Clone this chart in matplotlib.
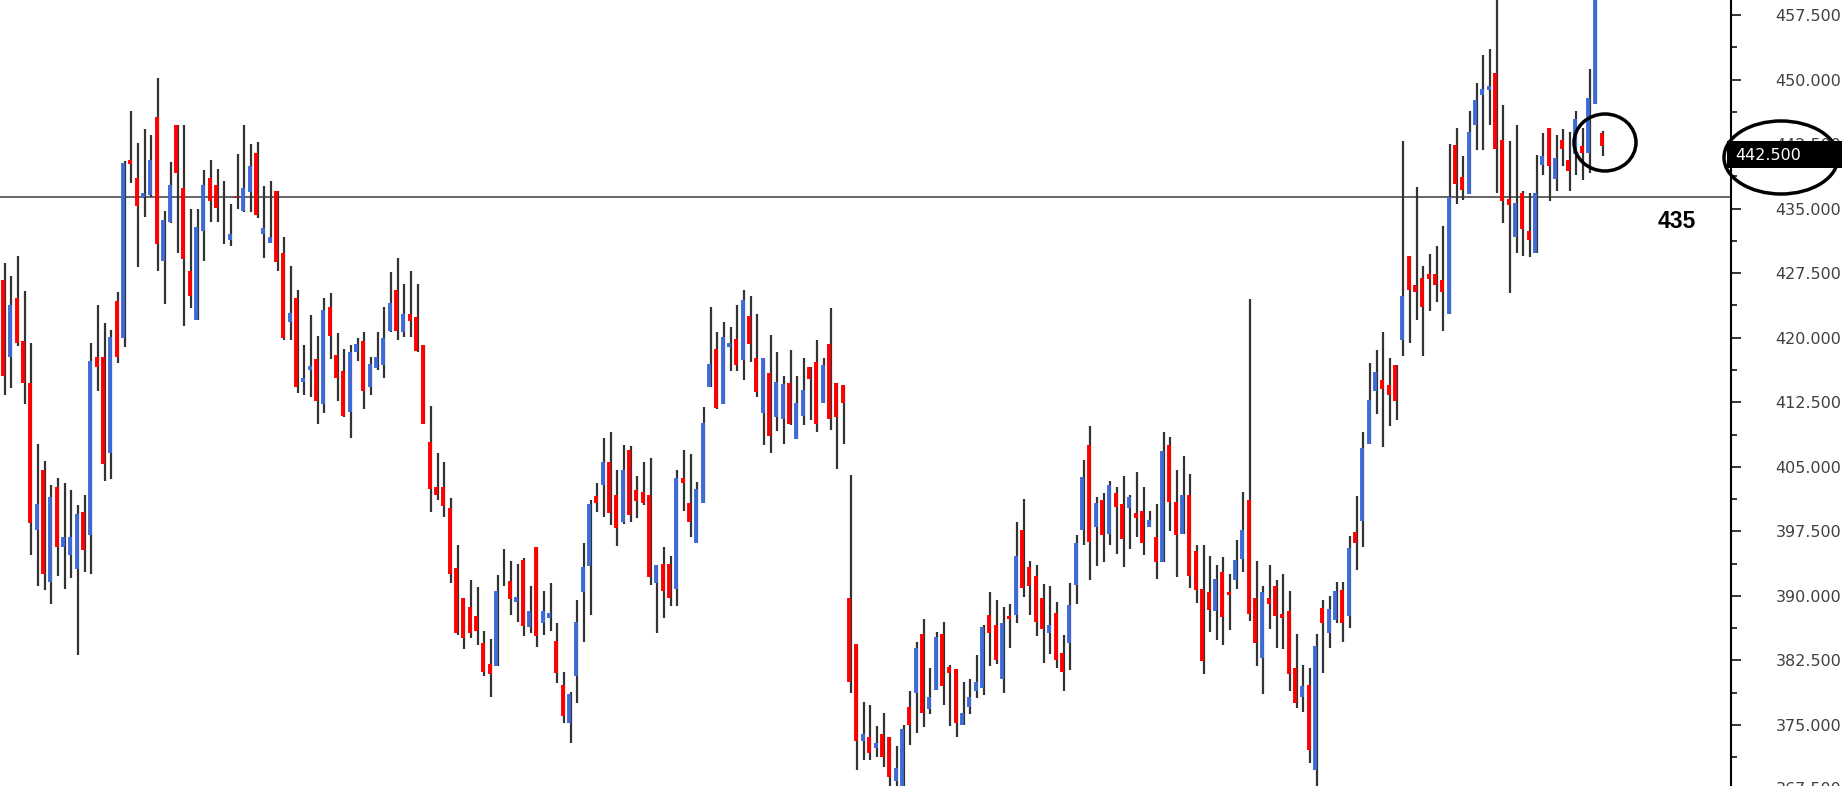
import matplotlib
matplotlib.use('Agg')
import matplotlib.pyplot as plt
import matplotlib.transforms as mtransforms
from matplotlib.patches import Ellipse, Rectangle
from matplotlib.ticker import MultipleLocator, FormatStrFormatter
import numpy as np

opens = [426.7, 417.8, 424.6, 419.6, 414.7, 397.7, 404.6, 391.6, 402.6, 395.7,
         394.7, 393.1, 399.7, 397.1, 417.8, 417.8, 406.6, 424.3, 420.0, 440.7,
         438.6, 436.4, 436.6, 445.7, 428.9, 433.4, 444.7, 437.4, 427.8, 422.1,
         432.4, 438.6, 437.7, 431.8, 431.3, 436.4, 434.7, 436.9, 441.5, 432.0,
         431.0, 437.1, 429.8, 421.8, 424.6, 414.9, 416.3, 417.5, 412.3, 423.6,
         418.0, 416.1, 411.4, 418.3, 419.6, 414.3, 416.5, 416.8, 420.8, 425.5,
         420.7, 422.8, 422.4, 419.2, 407.9, 402.7, 402.7, 400.2, 393.2, 389.7,
         388.7, 387.7, 384.5, 382.1, 381.8, 391.7, 391.7, 389.3, 394.2, 386.4,
         395.7, 386.8, 387.4, 384.8, 379.7, 375.2, 380.7, 390.5, 393.5, 401.6,
         402.9, 405.6, 401.7, 398.6, 407.0, 402.3, 402.1, 401.7, 391.5, 393.7,
         393.7, 390.8, 403.7, 400.8, 396.1, 400.8, 414.3, 418.7, 412.3, 418.9,
         419.9, 417.4, 422.5, 417.6, 411.3, 415.9, 410.8, 410.6, 414.7, 408.2,
         410.9, 416.6, 417.2, 412.4, 419.3, 414.7, 414.5, 389.7, 384.4, 373.1,
         373.6, 372.3, 374.0, 373.6, 368.5, 367.5, 377.1, 378.7, 385.6, 376.9,
         379.1, 385.6, 381.7, 381.5, 375.0, 377.1, 379.0, 379.3, 387.8, 386.6,
         380.3, 387.7, 387.8, 397.7, 393.3, 392.3, 389.7, 385.7, 388.0, 383.4,
         384.5, 391.3, 397.7, 407.5, 398.0, 401.2, 397.2, 402.0, 400.7, 400.2,
         399.6, 399.9, 398.0, 396.9, 393.9, 407.5, 400.9, 397.2, 401.7, 395.2,
         390.8, 390.5, 388.2, 392.8, 390.5, 391.9, 394.3, 401.1, 389.7, 382.8,
         389.7, 391.1, 387.9, 388.2, 381.6, 378.2, 379.7, 369.8, 388.6, 385.7,
         387.2, 390.7, 387.7, 397.4, 398.7, 407.7, 413.8, 415.1, 414.5, 416.8,
         419.7, 429.5, 426.1, 426.9, 427.4, 427.4, 426.7, 422.8, 442.4, 438.7,
         436.7, 444.7, 448.2, 448.8, 450.8, 443.0, 436.1, 431.7, 436.8, 432.4,
         429.8, 440.1, 444.4, 438.4, 443.0, 440.6, 441.3, 442.3, 441.5, 447.2,
         443.8]
highs = [428.7, 427.2, 429.5, 425.4, 419.4, 407.7, 405.7, 402.9, 403.7, 403.1,
         402.3, 400.6, 401.7, 419.4, 423.8, 421.7, 420.9, 425.3, 440.5, 446.4,
         442.6, 444.2, 443.5, 450.2, 434.7, 440.4, 444.7, 444.7, 435.0, 435.0,
         439.5, 440.6, 439.6, 438.2, 435.5, 441.3, 444.7, 442.5, 442.7, 437.6,
         438.2, 437.1, 431.7, 428.3, 425.6, 419.2, 422.6, 420.2, 424.6, 425.2,
         420.6, 418.7, 419.2, 420.0, 420.7, 417.8, 420.7, 423.6, 427.6, 429.3,
         426.2, 427.8, 426.2, 419.2, 412.1, 406.6, 405.5, 401.4, 395.9, 389.7,
         391.9, 391.0, 385.9, 385.0, 392.4, 395.5, 394.1, 393.7, 394.4, 391.2,
         395.7, 390.6, 391.5, 386.8, 381.2, 378.8, 389.5, 396.1, 401.2, 403.1,
         408.3, 409.1, 404.6, 407.5, 407.4, 403.9, 405.6, 406.0, 393.6, 395.7,
         394.6, 404.6, 407.0, 406.5, 403.2, 412.0, 423.6, 420.7, 421.8, 421.2,
         423.8, 425.6, 424.8, 422.7, 417.6, 420.3, 418.3, 415.5, 418.6, 415.5,
         417.6, 416.6, 419.7, 417.6, 423.4, 414.7, 414.5, 404.0, 384.4, 377.7,
         377.3, 374.9, 376.4, 373.6, 372.5, 375.0, 379.0, 384.7, 387.3, 381.6,
         385.8, 387.0, 382.0, 381.5, 380.0, 380.4, 383.1, 386.6, 390.5, 389.5,
         388.7, 389.1, 398.6, 401.3, 394.0, 393.6, 391.4, 391.1, 389.3, 385.5,
         391.5, 397.1, 405.8, 409.7, 401.5, 401.9, 403.3, 402.6, 403.9, 401.7,
         404.4, 402.6, 399.9, 400.7, 409.1, 408.5, 404.6, 406.2, 404.2, 395.9,
         395.9, 394.6, 393.6, 394.5, 392.6, 396.5, 402.1, 424.5, 394.0, 391.2,
         393.6, 391.9, 392.6, 390.6, 385.6, 382.0, 381.6, 385.6, 389.5, 390.0,
         391.6, 391.6, 397.0, 401.6, 409.1, 417.1, 418.6, 420.7, 417.6, 416.8,
         442.9, 429.5, 437.5, 428.3, 429.7, 430.6, 433.0, 442.5, 444.4, 441.1,
         446.3, 449.6, 452.9, 453.5, 460.0, 447.0, 442.8, 444.7, 437.1, 436.8,
         441.2, 443.8, 444.4, 443.6, 444.2, 443.9, 446.3, 444.4, 451.2, 463.0,
         444.0]
lows = [413.3, 414.2, 419.0, 412.3, 394.7, 391.1, 390.7, 389.0, 392.3, 390.8,
        392.1, 383.1, 392.8, 392.6, 413.8, 403.3, 403.6, 417.1, 418.9, 438.0,
        428.2, 434.0, 436.4, 427.8, 423.9, 433.3, 429.8, 421.4, 423.4, 422.1,
        428.9, 433.4, 433.4, 430.9, 430.6, 434.9, 434.6, 434.6, 433.9, 429.3,
        431.0, 427.8, 419.7, 419.7, 413.6, 413.4, 413.1, 410.0, 411.2, 417.5,
        412.6, 410.8, 408.3, 417.3, 411.7, 413.4, 416.3, 415.3, 420.7, 419.7,
        420.1, 420.1, 418.3, 410.0, 399.8, 401.2, 399.2, 391.5, 385.4, 383.8,
        385.1, 384.3, 380.7, 378.3, 381.8, 391.1, 387.8, 387.0, 385.3, 385.7,
        384.1, 385.5, 385.9, 379.9, 375.2, 372.9, 377.6, 384.7, 387.8, 399.8,
        399.2, 398.2, 395.8, 398.4, 398.6, 399.0, 400.6, 391.3, 385.7, 387.4,
        388.8, 388.8, 399.9, 396.9, 396.1, 400.8, 414.3, 411.7, 412.3, 416.1,
        416.1, 415.1, 417.2, 413.1, 407.5, 406.6, 409.2, 407.7, 409.9, 408.2,
        409.9, 410.4, 409.0, 412.4, 409.3, 404.8, 407.7, 378.7, 369.8, 370.9,
        370.9, 371.3, 370.1, 367.9, 366.5, 366.5, 372.7, 374.1, 374.8, 376.3,
        379.1, 377.3, 374.9, 373.6, 375.0, 376.3, 378.1, 378.5, 381.8, 382.1,
        378.7, 383.9, 386.8, 389.9, 387.8, 385.3, 382.2, 383.3, 381.6, 378.9,
        381.4, 389.1, 395.9, 391.8, 393.5, 393.9, 395.9, 394.9, 393.3, 395.4,
        396.8, 394.7, 398.0, 392.0, 393.9, 397.5, 392.2, 397.2, 390.9, 389.2,
        380.9, 385.8, 384.9, 384.3, 386.0, 390.8, 392.8, 387.1, 381.8, 378.6,
        386.2, 384.0, 383.8, 379.0, 377.0, 376.5, 370.6, 367.9, 381.0, 384.0,
        386.9, 384.7, 386.3, 393.0, 395.7, 407.7, 411.1, 407.3, 409.7, 410.4,
        417.9, 419.4, 422.1, 417.9, 423.1, 424.1, 420.8, 422.8, 435.5, 436.0,
        436.7, 441.8, 441.8, 444.7, 436.8, 433.3, 425.2, 429.8, 429.5, 429.4,
        429.8, 438.9, 435.9, 437.0, 440.0, 437.1, 438.9, 438.3, 439.1, 447.2,
        441.1]
closes = [415.5, 423.8, 419.4, 414.7, 398.5, 400.7, 392.6, 401.5, 395.7, 396.8,
          396.9, 399.5, 395.3, 417.3, 416.6, 405.3, 420.1, 417.8, 440.3, 440.2,
          435.3, 436.8, 440.7, 430.9, 433.7, 437.8, 439.1, 429.2, 424.9, 432.9,
          437.8, 435.9, 435.1, 431.8, 432.1, 436.2, 437.4, 439.9, 434.2, 432.7,
          431.7, 428.8, 420.0, 422.9, 414.3, 415.3, 416.7, 412.6, 423.2, 420.2,
          415.3, 410.9, 418.3, 419.3, 413.8, 417.0, 417.7, 420.0, 424.0, 420.8,
          422.8, 421.9, 418.5, 410.0, 402.4, 401.7, 400.4, 392.6, 385.7, 385.1,
          385.7, 385.9, 381.2, 380.9, 390.6, 391.7, 389.6, 389.9, 386.5, 388.2,
          385.3, 388.3, 388.0, 381.0, 376.0, 378.6, 387.0, 393.4, 400.7, 400.8,
          405.6, 399.6, 397.9, 404.6, 399.4, 401.0, 400.8, 392.2, 393.6, 390.6,
          389.8, 403.7, 403.1, 398.6, 402.4, 410.1, 417.0, 411.8, 420.1, 419.4,
          416.8, 424.4, 419.3, 413.7, 417.6, 408.6, 414.9, 414.6, 410.0, 412.4,
          413.9, 415.2, 410.0, 416.8, 410.6, 410.8, 412.4, 380.0, 373.1, 374.0,
          371.7, 372.9, 371.3, 369.0, 370.0, 374.5, 375.0, 384.0, 376.4, 378.3,
          385.2, 379.5, 381.0, 375.2, 376.4, 378.3, 380.0, 386.4, 385.7, 382.5,
          386.9, 387.3, 394.6, 390.9, 391.1, 387.0, 386.1, 386.6, 382.6, 381.1,
          388.9, 396.1, 403.8, 396.3, 400.8, 397.1, 402.9, 400.3, 396.6, 401.5,
          399.1, 396.2, 398.8, 393.9, 406.8, 400.9, 397.1, 401.7, 392.3, 390.7,
          382.4, 388.4, 392.0, 387.5, 390.1, 394.2, 397.7, 387.9, 384.5, 390.4,
          389.0, 387.7, 387.4, 380.9, 377.5, 379.5, 372.1, 384.2, 386.9, 388.5,
          390.6, 386.9, 395.6, 396.2, 407.2, 412.8, 416.0, 414.0, 413.4, 412.6,
          424.8, 425.6, 425.3, 423.6, 426.8, 426.1, 425.3, 436.4, 437.9, 437.2,
          443.9, 447.6, 448.9, 449.3, 441.9, 435.9, 435.4, 435.6, 432.6, 431.4,
          436.8, 441.1, 440.0, 440.9, 441.9, 439.4, 445.4, 441.5, 447.9, 462.0,
          442.3]

level_value = 436.4
level_label = "435"
last_price_text = "442.500"
last_price_value = 441.4
bottom_tick_value = 367.5

W, H = 1842, 786
fig = plt.figure(figsize=(W / 100, H / 100), dpi=100)
fig.patch.set_facecolor('white')
ax = fig.add_axes([0, 0, 1731 / W, 1])

x = np.arange(len(opens))
o = np.array(opens)
c = np.array(closes)
ax.vlines(x + 0.2, lows, highs, colors='#333333', lw=1.6, zorder=2)
body_colors = ['#3E6BD6' if cc > oo else ('#FF0000' if cc < oo else '#333333')
               for oo, cc in zip(o, c)]
ax.vlines(x, np.minimum(o, c), np.maximum(o, c), colors=body_colors, lw=2.8, zorder=3)

ax.axhline(level_value, color='#3a3a3a', lw=1.1, zorder=1)

ax.set_xlim(-0.5, 259.4)
ax.set_ylim(367.91, 459.24)
for s in ['top', 'left', 'bottom']:
    ax.spines[s].set_visible(False)
ax.spines['right'].set_color('black')
ax.spines['right'].set_linewidth(1.5)
ax.set_xticks([])
ax.yaxis.tick_right()
ax.yaxis.set_major_locator(MultipleLocator(7.5))
ax.yaxis.set_minor_locator(MultipleLocator(3.75))
ax.yaxis.set_major_formatter(FormatStrFormatter('%.3f'))
ax.tick_params(axis='y', which='major', direction='out', length=7, width=1.1,
               color='black', labelsize=11.5, labelcolor='#404040', pad=25)
ax.tick_params(axis='y', which='minor', direction='out', length=4.3, width=1.1,
               color='black')
for lab in ax.get_yticklabels():
    lab.set_family('DejaVu Sans')

# partially visible bottom label
trans = mtransforms.offset_copy(
    mtransforms.blended_transform_factory(ax.transAxes, ax.transData),
    fig=fig, x=32, y=0, units='points')
ax.text(1.0, bottom_tick_value, f"{bottom_tick_value:.3f}", transform=trans,
        ha='left', va='center', fontsize=11.5, color='#404040', clip_on=False)

# level label
fig.text(1677 / W, 1 - 221 / H, level_label, ha='center', va='center',
         fontsize=16.5, fontweight='bold', family='Liberation Sans', color='black')

# last price box
fig.add_artist(Rectangle((1727 / W, 1 - 168 / H), (W - 1727) / W, 27 / H,
                         transform=fig.transFigure, facecolor='black',
                         edgecolor='none', zorder=5))
fig.text(1735 / W, 1 - 155 / H, last_price_text, ha='left', va='center',
         fontsize=11.5, color='white', zorder=6)

# hand-drawn ellipses
fig.add_artist(Ellipse((1781 / W, 1 - 157.5 / H), 114 / W, 73 / H,
                       transform=fig.transFigure, fill=False, edgecolor='black',
                       lw=2.5, zorder=7))
fig.add_artist(Ellipse((1605 / W, 1 - 142.5 / H), 62 / W, 57 / H,
                       transform=fig.transFigure, fill=False, edgecolor='black',
                       lw=2.5, zorder=7))

fig.savefig('out.png', dpi=100, facecolor='white')
